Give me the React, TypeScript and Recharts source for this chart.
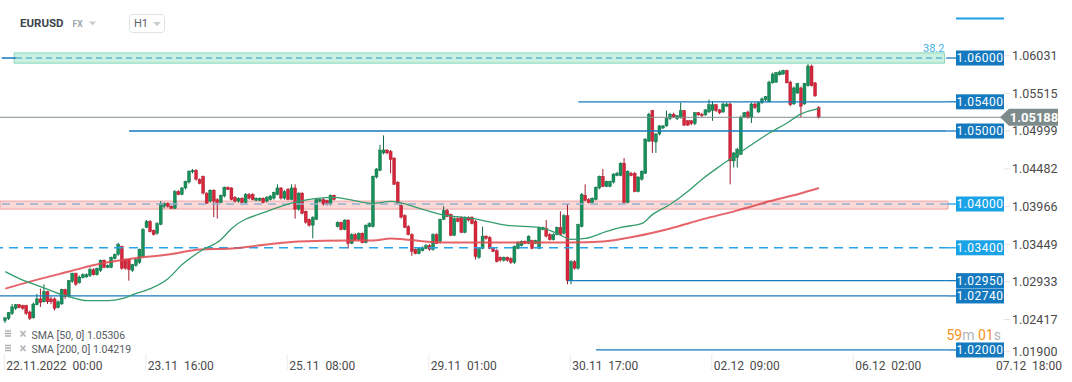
import React from 'react';
import { ComposedChart, Bar, Line, XAxis, YAxis, ReferenceLine, ReferenceArea } from 'recharts';

// ---------- DATA ----------
const OPEN = [
  1.0240,1.0243,1.0250,1.0257,1.0262,1.0261,1.0261,1.0252,1.0244,1.0262,
  1.0270,1.0266,1.0280,1.0270,1.0270,1.0258,1.0263,1.0283,1.0273,1.0294,
  1.0305,1.0292,1.0299,1.0300,1.0302,1.0310,1.0303,1.0309,1.0323,1.0313,
  1.0313,1.0325,1.0331,1.0342,1.0324,1.0324,1.0309,1.0316,1.0320,1.0328,
  1.0368,1.0376,1.0364,1.0360,1.0372,1.0397,1.0401,1.0397,1.0394,1.0417,
  1.0413,1.0422,1.0430,1.0444,1.0446,1.0434,1.0438,1.0415,1.0404,1.0419,
  1.0406,1.0402,1.0411,1.0423,1.0422,1.0409,1.0404,1.0408,1.0402,1.0413,
  1.0413,1.0405,1.0405,1.0408,1.0404,1.0406,1.0408,1.0413,1.0422,1.0408,
  1.0420,1.0406,1.0422,1.0393,1.0415,1.0390,1.0379,1.0371,1.0379,1.0404,
  1.0406,1.0405,1.0400,1.0412,1.0369,1.0375,1.0365,1.0378,1.0346,1.0358,
  1.0351,1.0360,1.0347,1.0369,1.0369,1.0437,1.0446,1.0470,1.0474,1.0472,
  1.0463,1.0430,1.0398,1.0384,1.0369,1.0358,1.0338,1.0332,1.0336,1.0339,
  1.0343,1.0338,1.0358,1.0349,1.0379,1.0391,1.0386,1.0357,1.0380,1.0382,
  1.0361,1.0382,1.0382,1.0376,1.0327,1.0339,1.0356,1.0354,1.0339,1.0336,
  1.0327,1.0323,1.0327,1.0325,1.0320,1.0339,1.0343,1.0349,1.0346,1.0350,
  1.0346,1.0339,1.0365,1.0367,1.0358,1.0351,1.0358,1.0368,1.0360,1.0384,
  1.0295,1.0321,1.0312,1.0369,1.0412,1.0406,1.0402,1.0406,1.0422,1.0438,
  1.0424,1.0424,1.0430,1.0439,1.0439,1.0456,1.0402,1.0442,1.0442,1.0417,
  1.0434,1.0442,1.0486,1.0528,1.0485,1.0496,1.0504,1.0507,1.0517,1.0523,
  1.0517,1.0518,1.0528,1.0514,1.0514,1.0510,1.0525,1.0523,1.0522,1.0526,
  1.0528,1.0536,1.0529,1.0526,1.0534,1.0537,1.0459,1.0464,1.0468,1.0519,
  1.0526,1.0518,1.0537,1.0526,1.0539,1.0543,1.0540,1.0566,1.0567,1.0577,
  1.0578,1.0583,1.0567,1.0537,1.0552,1.0559,1.0537,1.0562,1.0589,1.0566,
  1.0532,
];
const HIGH = [
  1.0245,1.0252,1.0263,1.0263,1.0263,1.0262,1.0262,1.0254,1.0265,1.0277,
  1.0284,1.0290,1.0281,1.0273,1.0272,1.0268,1.0284,1.0284,1.0296,1.0306,
  1.0306,1.0302,1.0305,1.0305,1.0313,1.0312,1.0313,1.0324,1.0324,1.0317,
  1.0328,1.0332,1.0347,1.0343,1.0325,1.0325,1.0318,1.0325,1.0339,1.0367,
  1.0378,1.0378,1.0365,1.0375,1.0404,1.0402,1.0402,1.0398,1.0419,1.0419,
  1.0423,1.0432,1.0446,1.0448,1.0448,1.0435,1.0439,1.0416,1.0420,1.0420,
  1.0408,1.0413,1.0424,1.0424,1.0423,1.0411,1.0409,1.0409,1.0415,1.0415,
  1.0415,1.0409,1.0409,1.0409,1.0411,1.0412,1.0417,1.0427,1.0423,1.0419,
  1.0422,1.0427,1.0427,1.0416,1.0416,1.0391,1.0380,1.0383,1.0408,1.0408,
  1.0408,1.0406,1.0413,1.0413,1.0376,1.0376,1.0379,1.0379,1.0360,1.0360,
  1.0361,1.0361,1.0372,1.0375,1.0439,1.0449,1.0481,1.0494,1.0475,1.0474,
  1.0464,1.0431,1.0400,1.0386,1.0371,1.0360,1.0339,1.0340,1.0342,1.0345,
  1.0345,1.0360,1.0360,1.0380,1.0397,1.0393,1.0387,1.0382,1.0382,1.0383,
  1.0383,1.0383,1.0383,1.0378,1.0340,1.0369,1.0357,1.0356,1.0340,1.0338,
  1.0328,1.0328,1.0328,1.0327,1.0343,1.0349,1.0350,1.0350,1.0357,1.0351,
  1.0351,1.0369,1.0369,1.0378,1.0360,1.0360,1.0369,1.0390,1.0386,1.0400,
  1.0323,1.0323,1.0373,1.0415,1.0427,1.0408,1.0409,1.0424,1.0439,1.0448,
  1.0432,1.0432,1.0442,1.0444,1.0457,1.0463,1.0446,1.0444,1.0444,1.0438,
  1.0446,1.0490,1.0525,1.0529,1.0497,1.0508,1.0508,1.0528,1.0525,1.0525,
  1.0522,1.0539,1.0529,1.0515,1.0515,1.0526,1.0526,1.0525,1.0530,1.0543,
  1.0541,1.0537,1.0530,1.0539,1.0539,1.0539,1.0471,1.0477,1.0521,1.0526,
  1.0528,1.0539,1.0539,1.0540,1.0546,1.0548,1.0569,1.0580,1.0581,1.0583,
  1.0584,1.0584,1.0569,1.0561,1.0566,1.0561,1.0566,1.0592,1.0591,1.0567,
  1.0534,
];
const LOW = [
  1.0237,1.0241,1.0248,1.0255,1.0257,1.0255,1.0248,1.0241,1.0243,1.0261,
  1.0259,1.0265,1.0263,1.0263,1.0254,1.0257,1.0262,1.0270,1.0272,1.0292,
  1.0288,1.0291,1.0298,1.0299,1.0300,1.0302,1.0302,1.0307,1.0312,1.0312,
  1.0312,1.0324,1.0329,1.0310,1.0310,1.0295,1.0307,1.0314,1.0318,1.0327,
  1.0367,1.0361,1.0357,1.0358,1.0371,1.0394,1.0395,1.0393,1.0393,1.0412,
  1.0412,1.0420,1.0428,1.0442,1.0432,1.0427,1.0413,1.0400,1.0402,1.0382,
  1.0380,1.0401,1.0409,1.0419,1.0405,1.0402,1.0402,1.0401,1.0401,1.0406,
  1.0405,1.0404,1.0404,1.0401,1.0402,1.0405,1.0406,1.0412,1.0406,1.0406,
  1.0405,1.0405,1.0380,1.0391,1.0386,1.0373,1.0369,1.0353,1.0378,1.0402,
  1.0398,1.0398,1.0398,1.0405,1.0368,1.0364,1.0364,1.0339,1.0345,1.0350,
  1.0350,1.0346,1.0346,1.0368,1.0368,1.0435,1.0445,1.0468,1.0468,1.0442,
  1.0426,1.0400,1.0380,1.0367,1.0357,1.0329,1.0331,1.0331,1.0335,1.0338,
  1.0336,1.0336,1.0345,1.0346,1.0378,1.0382,1.0356,1.0356,1.0375,1.0360,
  1.0360,1.0376,1.0372,1.0324,1.0325,1.0338,1.0351,1.0338,1.0334,1.0320,
  1.0321,1.0321,1.0321,1.0318,1.0318,1.0338,1.0342,1.0345,1.0345,1.0338,
  1.0345,1.0338,1.0364,1.0354,1.0350,1.0350,1.0357,1.0357,1.0358,1.0290,
  1.0290,1.0310,1.0310,1.0368,1.0404,1.0401,1.0401,1.0405,1.0420,1.0423,
  1.0423,1.0423,1.0428,1.0438,1.0438,1.0401,1.0401,1.0438,1.0416,1.0416,
  1.0432,1.0441,1.0485,1.0470,1.0470,1.0494,1.0503,1.0506,1.0515,1.0518,
  1.0515,1.0517,1.0507,1.0507,1.0508,1.0508,1.0521,1.0519,1.0521,1.0525,
  1.0514,1.0526,1.0523,1.0525,1.0533,1.0427,1.0450,1.0450,1.0467,1.0518,
  1.0517,1.0511,1.0530,1.0525,1.0537,1.0541,1.0539,1.0565,1.0566,1.0576,
  1.0577,1.0565,1.0534,1.0536,1.0551,1.0519,1.0536,1.0561,1.0561,1.0547,
  1.0517,
];
const CLOSE = [
  1.0244,1.0251,1.0259,1.0262,1.0258,1.0257,1.0250,1.0243,1.0263,1.0270,
  1.0265,1.0280,1.0266,1.0266,1.0257,1.0266,1.0283,1.0273,1.0295,1.0305,
  1.0290,1.0300,1.0303,1.0303,1.0310,1.0303,1.0312,1.0323,1.0313,1.0316,
  1.0327,1.0331,1.0345,1.0312,1.0312,1.0310,1.0317,1.0324,1.0338,1.0365,
  1.0376,1.0362,1.0358,1.0373,1.0401,1.0401,1.0397,1.0394,1.0417,1.0413,
  1.0422,1.0431,1.0445,1.0446,1.0434,1.0428,1.0415,1.0401,1.0419,1.0404,
  1.0402,1.0412,1.0423,1.0420,1.0406,1.0404,1.0408,1.0402,1.0413,1.0408,
  1.0406,1.0408,1.0408,1.0402,1.0409,1.0411,1.0416,1.0422,1.0408,1.0417,
  1.0406,1.0422,1.0393,1.0415,1.0387,1.0375,1.0371,1.0382,1.0406,1.0406,
  1.0400,1.0400,1.0412,1.0406,1.0375,1.0365,1.0378,1.0346,1.0358,1.0351,
  1.0360,1.0347,1.0371,1.0373,1.0438,1.0448,1.0474,1.0474,1.0470,1.0461,
  1.0427,1.0401,1.0382,1.0368,1.0358,1.0335,1.0332,1.0339,1.0340,1.0343,
  1.0338,1.0358,1.0346,1.0379,1.0391,1.0383,1.0357,1.0380,1.0376,1.0361,
  1.0382,1.0378,1.0373,1.0328,1.0339,1.0356,1.0353,1.0339,1.0335,1.0321,
  1.0323,1.0327,1.0323,1.0320,1.0342,1.0347,1.0349,1.0346,1.0356,1.0339,
  1.0350,1.0368,1.0368,1.0356,1.0351,1.0358,1.0368,1.0358,1.0384,1.0295,
  1.0321,1.0312,1.0372,1.0413,1.0405,1.0402,1.0408,1.0423,1.0438,1.0424,
  1.0431,1.0431,1.0441,1.0442,1.0456,1.0402,1.0445,1.0439,1.0417,1.0437,
  1.0445,1.0489,1.0523,1.0486,1.0496,1.0507,1.0507,1.0517,1.0523,1.0519,
  1.0521,1.0528,1.0508,1.0508,1.0510,1.0525,1.0522,1.0521,1.0529,1.0536,
  1.0536,1.0528,1.0525,1.0537,1.0537,1.0459,1.0470,1.0475,1.0519,1.0525,
  1.0518,1.0537,1.0532,1.0539,1.0544,1.0547,1.0567,1.0578,1.0580,1.0581,
  1.0583,1.0566,1.0536,1.0559,1.0565,1.0534,1.0565,1.0589,1.0562,1.0548,
  1.05188,
];

// SMA values read at selected candle indices
const SMA50_IDX = [0,4,10,16,19,23,29,33,36,41,46,50,55,61,64,74,83,93,97,104,109,118,123,132,142,151,156,160,164,170,174,180,183,188,193,197,202,207,216,221,225,230];
const SMA50_VAL = [1.03074,1.02977,1.02867,1.02757,1.02716,1.02675,1.02675,1.02702,1.02757,1.02840,1.02977,1.03170,1.03349,1.03514,1.03665,1.03899,1.04037,1.04092,1.04064,1.04009,1.04037,1.03927,1.03858,1.03803,1.03707,1.03679,1.03596,1.03514,1.03528,1.03624,1.03679,1.03734,1.03858,1.03996,1.04174,1.04340,1.04518,1.04683,1.04972,1.05110,1.05234,1.05306];
const SMA200_IDX = [0,8,18,27,36,46,55,64,74,83,97,104,109,113,123,142,160,169,178,188,197,207,216,225,230];
const SMA200_VAL = [1.02840,1.02950,1.03074,1.03184,1.03252,1.03307,1.03376,1.03390,1.03445,1.03486,1.03500,1.03500,1.03528,1.03514,1.03473,1.03473,1.03473,1.03486,1.03555,1.03665,1.03789,1.03913,1.04037,1.04147,1.04219];

const X_TICK_CANDLES = [0, 40, 80, 120, 160, 200, 240];
const X_TICK_LABELS = ['22.11.2022  00:00', '23.11  16:00', '25.11  08:00', '29.11  01:00', '30.11  17:00', '02.12  09:00', '06.12  02:00'];
const X_EXTRA_LABEL = '07.12  18:00';
const Y_TICKS = [1.019, 1.02417, 1.02933, 1.03449, 1.03966, 1.04482, 1.04999, 1.05515, 1.06031];

const LEVEL_PRICES = [1.06, 1.054, 1.05, 1.04, 1.034, 1.0295, 1.0274, 1.02];
const LEVEL_LABELS = ['1.06000', '1.05400', '1.05000', '1.04000', '1.03400', '1.02950', '1.02740', '1.02000'];
const LEVEL_START = [3, 162, 35, -1, -1, 159, -1, 167]; // candle index where a level line starts (-1: full width)
const LAST_PRICE = 1.05188;
const FIB_BAND = [1.0593, 1.0607];
const FIB_LABEL = '38.2';
const PINK_BAND = [1.0393, 1.0404];
const SMA50_LAST = 1.05306;
const SMA200_LAST = 1.04219;

// ---------- LAYOUT ----------
const W = 1072;
const H = 382;
const Y_AXIS_W = 124;
const X_AXIS_H = 24;
const PLOT_B = H - X_AXIS_H;
const BOX_X = 956;
const LEAD = 1;
const SLOTS = 268;
const LAST_SLOT = SLOTS - 1;

const rows = Array.from({ length: SLOTS }, (_, s) => {
  const i = s - LEAD;
  const has = i >= 0 && i < OPEN.length;
  const k50 = SMA50_IDX.indexOf(i);
  const k200 = SMA200_IDX.indexOf(i);
  return {
    slot: s,
    o: has ? OPEN[i] : null,
    h: has ? HIGH[i] : null,
    l: has ? LOW[i] : null,
    c: has ? CLOSE[i] : null,
    range: has ? [LOW[i], HIGH[i]] : null,
    sma50: k50 >= 0 ? SMA50_VAL[k50] : null,
    sma200: k200 >= 0 ? SMA200_VAL[k200] : null,
  };
});

const GREEN = '#17905b';
const GREEN_D = '#0d6a42';
const RED = '#d7263b';
const RED_D = '#a41c2c';
const BLUE = '#1479be';
const LBLUE = '#1ba3e8';

function Candle(props: any) {
  const { x, y, width, height, payload } = props;
  if (!payload || payload.o == null) return null;
  const { o, h, l, c } = payload;
  const top = Math.min(y, y + height);
  const bot = Math.max(y, y + height);
  const span = h - l || 1e-9;
  const py = (p: number) => top + ((h - p) / span) * (bot - top);
  const up = c >= o;
  const cx = x + width / 2;
  const bt = py(Math.max(o, c));
  const bb = py(Math.min(o, c));
  return (
    <g>
      <line x1={cx} x2={cx} y1={top} y2={bot} stroke={up ? GREEN_D : RED_D} strokeWidth={1} />
      <rect x={x} y={bt} width={width} height={Math.max(1, bb - bt)} fill={up ? GREEN : RED} stroke={up ? GREEN_D : RED_D} strokeWidth={0.4} />
    </g>
  );
}

function LevelTag(props: any) {
  const { viewBox, text, bg, line } = props;
  if (!viewBox) return null;
  const y = viewBox.y;
  const xEnd = viewBox.x + viewBox.width;
  return (
    <g>
      <line x1={xEnd} x2={BOX_X} y1={y} y2={y} stroke={line} strokeWidth={1.3} />
      <rect x={BOX_X} y={y - 7.5} width={48} height={15} fill={bg} />
      <text x={BOX_X + 24} y={y + 4.2} textAnchor="middle" fontSize={12} fill="#ffffff" letterSpacing={0.5}>{text}</text>
    </g>
  );
}

function PriceTag(props: any) {
  const { viewBox, text } = props;
  if (!viewBox) return null;
  const y = viewBox.y;
  const xEnd = viewBox.x + viewBox.width;
  return (
    <g>
      <line x1={xEnd} x2={1001} y1={y} y2={y} stroke="#7f8b8b" strokeWidth={1} />
      <polygon points={`1000,${y} 1009,${y - 8.5} 1058,${y - 8.5} 1058,${y + 8.5} 1009,${y + 8.5}`} fill="#7e8b8b" />
      <text x={1034} y={y + 4.6} textAnchor="middle" fontSize={13} fontWeight="bold" fill="#ffffff">{text}</text>
    </g>
  );
}

function FibLabel(props: any) {
  const { viewBox, text } = props;
  if (!viewBox) return null;
  return (
    <text x={viewBox.x + viewBox.width} y={viewBox.y - 1} textAnchor="end" fontSize={11} fill="#47b2e6">{text}</text>
  );
}

function YTick(props: any) {
  const { y, payload } = props;
  const isMin = Math.abs(payload.value - Y_TICKS[0]) < 1e-7;
  const ty = isMin ? y - 6 : y;
  return (
    <g>
      <line x1={1004} x2={1010} y1={ty} y2={ty} stroke="#e4e4e4" />
      <text x={1012} y={ty + 4.3} fontSize={12.5} fill="#4a4a4a">{payload.value.toFixed(5)}</text>
    </g>
  );
}

function XTick(props: any) {
  const { x, payload } = props;
  const k = X_TICK_CANDLES.indexOf(payload.value - LEAD);
  if (k < 0) return null;
  return (
    <g>
      <line x1={x - 1} x2={x - 1} y1={PLOT_B - 4} y2={PLOT_B + 12} stroke="#ececec" />
      <text x={x + 1} y={PLOT_B + 11.5} fontSize={12} fill="#4a4a4a" style={{ whiteSpace: 'pre' }}>{X_TICK_LABELS[k]}</text>
    </g>
  );
}

export default function App() {
  const levelStyle = (k: number) => {
    const p = LEVEL_PRICES[k];
    if (p === 1.04) return { stroke: '#8fb1cf', dash: '8 6', bg: LBLUE, line: LBLUE, w: 1.3 };
    if (p === 1.034) return { stroke: '#27a4ea', dash: '9 6', bg: LBLUE, line: LBLUE, w: 1.6 };
    if (p === 1.06) return { stroke: '#5ab8d2', dash: '6 4', bg: BLUE, line: BLUE, w: 1.3 };
    return { stroke: BLUE, dash: undefined, bg: BLUE, line: BLUE, w: 1.3 };
  };

  return (
    <div style={{ position: 'absolute', left: 0, top: 0, width: W, height: H, background: '#fff', fontFamily: 'Roboto, sans-serif' }}>
      <ComposedChart width={W} height={H} data={rows} margin={{ top: 0, right: 0, bottom: 0, left: 0 }}>
        <XAxis
          dataKey="slot"
          type="category"
          ticks={X_TICK_CANDLES.map((c) => c + LEAD)}
          interval={0}
          height={X_AXIS_H}
          tickLine={false}
          axisLine={false}
          tick={<XTick />}
        />
        <YAxis
          orientation="right"
          type="number"
          width={Y_AXIS_W}
          domain={[1.0189, 1.06795]}
          allowDataOverflow
          ticks={Y_TICKS}
          interval={0}
          tickLine={false}
          axisLine={false}
          tick={<YTick />}
        />

        {/* pink zone around 1.04 (full width) */}
        <ReferenceArea
          y1={PINK_BAND[0]}
          y2={PINK_BAND[1]}
          fill="#f9b9b9"
          fillOpacity={0.55}
          stroke="#f0a2a2"
          strokeWidth={1}
        />

        {/* 1.06 solid stub to the left of the fib band */}
        <ReferenceLine
          segment={[{ x: 0, y: LEVEL_PRICES[0] }, { x: LEVEL_START[0] + LEAD, y: LEVEL_PRICES[0] }]}
          stroke={BLUE}
          strokeWidth={1.5}
        />
        <ReferenceArea
          x1={LEVEL_START[0] + LEAD}
          x2={LAST_SLOT - 1}
          y1={FIB_BAND[0]}
          y2={FIB_BAND[1]}
          fill="#a6e6cf"
          fillOpacity={0.6}
          stroke="#86d8bb"
          strokeWidth={1}
          label={<FibLabel text={FIB_LABEL} />}
        />

        {LEVEL_PRICES.map((p, k) => {
          const st = levelStyle(k);
          const start = LEVEL_START[k];
          const tag = <LevelTag text={LEVEL_LABELS[k]} bg={st.bg} line={st.line} />;
          if (start < 0) {
            return (
              <ReferenceLine key={k} y={p} stroke={st.stroke} strokeWidth={st.w} strokeDasharray={st.dash} label={tag} />
            );
          }
          return (
            <ReferenceLine
              key={k}
              segment={[{ x: start + LEAD, y: p }, { x: LAST_SLOT, y: p }]}
              stroke={st.stroke}
              strokeWidth={st.w}
              strokeDasharray={st.dash}
              label={tag}
            />
          );
        })}

        <ReferenceLine y={LAST_PRICE} stroke="#7f8b8b" strokeWidth={1} label={<PriceTag text={LAST_PRICE.toFixed(5)} />} />

        <Bar dataKey="range" barSize={3} shape={<Candle />} isAnimationActive={false} />
        <Line dataKey="sma200" type="monotone" connectNulls dot={false} stroke="#e0484f" strokeOpacity={0.85} strokeWidth={2} isAnimationActive={false} />
        <Line dataKey="sma50" type="monotone" connectNulls dot={false} stroke="#349c6c" strokeWidth={1.3} isAnimationActive={false} />
      </ComposedChart>

      <svg width={W} height={H} style={{ position: 'absolute', left: 0, top: 0, pointerEvents: 'none' }}>
        {/* header */}
        <text x={20} y={27.3} fontSize={11.5} fontWeight="bold" fill="#3d444b">EURUSD</text>
        <text x={72.5} y={26.8} fontSize={8.5} fontWeight="bold" fill="#9ca7ae">FX</text>
        <polygon points="89,21.5 96,21.5 92.5,25.5" fill="#c7ced2" />
        <rect x={129.5} y={14.5} width={35} height={18} rx={3} fill="#fff" stroke="#dfe3e6" />
        <text x={134} y={27.3} fontSize={11} fill="#5a6168">H1</text>
        <polygon points="153,22 161,22 157,26" fill="#c7ced2" />
        <line x1={956} x2={1004} y1={18.5} y2={18.5} stroke="#1aa0e4" strokeWidth={2} />

        {/* legend */}
        <g stroke="#a9abad" strokeWidth={1.4}>
          <line x1={5} x2={11} y1={331} y2={331} />
          <line x1={5} x2={11} y1={333.5} y2={333.5} />
          <line x1={5} x2={11} y1={336} y2={336} />
          <line x1={5} x2={11} y1={345.5} y2={345.5} />
          <line x1={5} x2={11} y1={348} y2={348} />
          <line x1={5} x2={11} y1={350.5} y2={350.5} />
        </g>
        <g stroke="#b5b7b9" strokeWidth={1.8}>
          <line x1={20.5} x2={25.5} y1={331} y2={336.5} />
          <line x1={25.5} x2={20.5} y1={331} y2={336.5} />
          <line x1={20.5} x2={25.5} y1={345.5} y2={351} />
          <line x1={25.5} x2={20.5} y1={345.5} y2={351} />
        </g>
        <text x={31.5} y={339} fontSize={10.5} fill="#555a5e">{`SMA [50, 0] ${SMA50_LAST.toFixed(5)}`}</text>
        <text x={31.5} y={353.3} fontSize={10.5} fill="#555a5e">{`SMA [200, 0] ${SMA200_LAST.toFixed(5)}`}</text>

        {/* countdown */}
        <text x={946.5} y={340} fontSize={14}>
          <tspan fill="#f6931e">59</tspan>
          <tspan fill="#b3b6b8">m </tspan>
          <tspan fill="#f6931e">01</tspan>
          <tspan fill="#b3b6b8">s</tspan>
        </text>

        {/* future x label beyond plot */}
        <text x={996} y={PLOT_B + 11.5} fontSize={12} fill="#4a4a4a" style={{ whiteSpace: 'pre' }}>{X_EXTRA_LABEL}</text>
      </svg>
    </div>
  );
}
